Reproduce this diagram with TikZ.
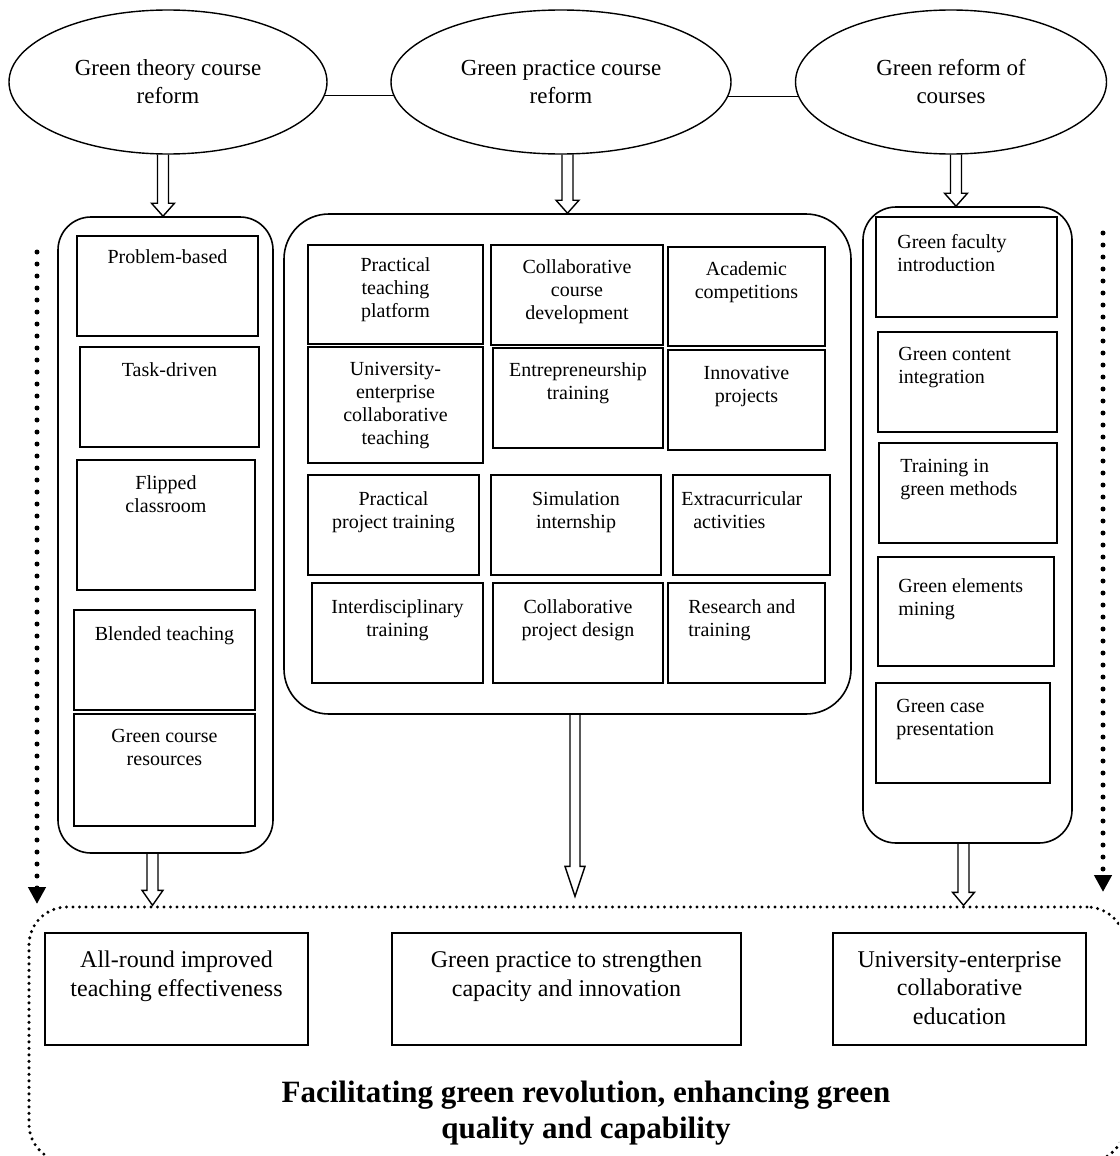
\documentclass[tikz,border=0pt]{standalone}
\usepackage{fontspec}
\setmainfont{Liberation Serif}
\usetikzlibrary{shapes.geometric,arrows.meta,calc,fit}
\newcommand\harrow[5]{%
  \draw[hollow] let \p1=(#1), \p2=(#2) in
    (\x1-#3pt,\y1) -- (\x1-#3pt,\y2+#5pt) -- (\x1-#4pt,\y2+#5pt) -- (\x1,\y2)
    -- (\x1+#4pt,\y2+#5pt) -- (\x1+#3pt,\y2+#5pt) -- (\x1+#3pt,\y1);}
\begin{document}
\begin{tikzpicture}[x=1pt,y=-1pt,
  ell/.style={ellipse, draw, line width=1.4pt, minimum height=144pt, minimum width=#1, inner sep=0pt, align=center, font=\fontsize{23}{28}\selectfont},
  rbx/.style={draw, line width=1.6pt, inner sep=0pt},
  ibx/.style={draw, line width=1.8pt, inner sep=0pt},
  txt/.style={inner sep=0pt, align=center, anchor=north, font=\fontsize{20}{23}\selectfont},
  ltxt/.style={txt, align=left, anchor=north west},
  btxt/.style={inner sep=0pt, align=center, anchor=north, font=\fontsize{24}{28.5}\selectfont},
  hollow/.style={line width=1.4pt, line join=miter},
  sidedot/.style={line width=5pt, dash pattern=on 0pt off 12pt, line cap=round, -{Triangle[length=17pt,width=17pt]}},
  boxdot/.style={draw, line width=3.4pt, dash pattern=on 0pt off 6.5pt, line cap=round, inner sep=0pt, rounded corners=38pt},
  ttl/.style={inner sep=0pt, align=center, font=\bfseries\fontsize{31}{36}\selectfont}
]
\useasboundingbox (0,0) rectangle (1119,1156);
\clip (0,0) rectangle (1119,1156);

% top ellipses
\node[ell=318pt] (e1) at (168,82) {Green theory course\\reform};
\node[ell=340pt] (e2) at (561,82) {Green practice course\\reform};
\node[ell=311pt] (e3) at (951,82) {Green reform of\\courses};
\coordinate (l1a) at (e1.-5.5);
\coordinate (l2a) at (e2.-5.15);
\draw[line width=1.4pt] (l1a) -- (l1a -| e2.185.15);
\draw[line width=1.4pt] (l2a) -- (l2a -| e3.185.6);

% rounded containers
\node[rbx, rounded corners=33pt, fit={(58,217)(273,853)}] (lbox) {};
\node[rbx, rounded corners=45pt, fit={(284,214)(851,714)}] (mbox) {};
\node[rbx, rounded corners=33pt, fit={(863,207)(1072,843)}] (rbox) {};

% left column
\node[ibx, fit={(77,236)(258,336)}] (lb1) {};
\node[txt] (lb1t) at ([yshift=-14pt]lb1.north) {Problem-based};
\node[ibx, fit={(80,347)(259,447)}] (lb2) {};
\node[txt] (lb2t) at ([yshift=-16pt]lb2.north) {Task-driven};
\node[ibx, fit={(77,460)(255,590)}] (lb3) {};
\node[txt] (lb3t) at ([yshift=-16pt]lb3.north) {Flipped\\classroom};
\node[ibx, fit={(74,610)(255,710)}] (lb4) {};
\node[txt] (lb4t) at ([yshift=-17pt]lb4.north) {Blended teaching};
\node[ibx, fit={(74,714)(255,826)}] (lb5) {};
\node[txt] (lb5t) at ([yshift=-16pt]lb5.north) {Green course\\resources};

% middle grid
\node[ibx, fit={(308,245)(483,344)}] (m11) {};
\node[txt] (m11t) at ([yshift=-13pt]m11.north) {Practical\\teaching\\platform};
\node[ibx, fit={(491,245)(663,345)}] (m12) {};
\node[txt] (m12t) at ([yshift=-15pt]m12.north) {Collaborative\\course\\development};
\node[ibx, fit={(668,247)(825,346)}] (m13) {};
\node[txt] (m13t) at ([yshift=-15pt]m13.north) {Academic\\competitions};
\node[ibx, fit={(308,347)(483,463)}] (m21) {};
\node[txt] (m21t) at ([yshift=-16pt]m21.north) {University-\\enterprise\\collaborative\\teaching};
\node[ibx, fit={(493,348)(663,448)}] (m22) {};
\node[txt] (m22t) at ([yshift=-15pt]m22.north) {Entrepreneurship\\training};
\node[ibx, fit={(668,350)(825,450)}] (m23) {};
\node[txt] (m23t) at ([yshift=-17pt]m23.north) {Innovative\\projects};
\node[ibx, fit={(308,475)(479,575)}] (m31) {};
\node[txt] (m31t) at ([yshift=-17pt]m31.north) {Practical\\project training};
\node[ibx, fit={(491,475)(661,575)}] (m32) {};
\node[txt] (m32t) at ([yshift=-17pt]m32.north) {Simulation\\internship};
\node[ibx, fit={(673,475)(830,575)}] (m33) {};
\node[ltxt] (m33t) at ([xshift=9pt,yshift=-17pt]m33.north west) {Extracurricular\\\hspace*{12pt}activities};
\node[ibx, fit={(312,583)(483,683)}] (m41) {};
\node[txt] (m41t) at ([yshift=-17pt]m41.north) {Interdisciplinary\\training};
\node[ibx, fit={(493,583)(663,683)}] (m42) {};
\node[txt] (m42t) at ([yshift=-17pt]m42.north) {Collaborative\\project design};
\node[ibx, fit={(668,583)(825,683)}] (m43) {};
\node[ltxt] (m43t) at ([xshift=21pt,yshift=-17pt]m43.north west) {Research and\\training};

% right column
\node[ibx, fit={(876,217)(1057,317)}] (r1) {};
\node[ltxt] (r1t) at ([xshift=22pt,yshift=-18pt]r1.north west) {Green faculty\\introduction};
\node[ibx, fit={(878,332)(1057,432)}] (r2) {};
\node[ltxt] (r2t) at ([xshift=21pt,yshift=-16pt]r2.north west) {Green content\\integration};
\node[ibx, fit={(879,443)(1057,543)}] (r3) {};
\node[ltxt] (r3t) at ([xshift=22pt,yshift=-17pt]r3.north west) {Training in\\green methods};
\node[ibx, fit={(878,557)(1054,666)}] (r4) {};
\node[ltxt] (r4t) at ([xshift=21pt,yshift=-22pt]r4.north west) {Green elements\\mining};
\node[ibx, fit={(876,683)(1050,783)}] (r5) {};
\node[ltxt] (r5t) at ([xshift=21pt,yshift=-17pt]r5.north west) {Green case\\presentation};

% bottom dotted region
\node[boxdot, fit={(29,907)(1125,1162)}] (dbox) {};
\node[ibx, fit={(45,933)(308,1045)}] (b1) {};
\node[btxt] (b1t) at ([yshift=-19pt]b1.north) {All-round improved\\teaching effectiveness};
\node[ibx, fit={(392,933)(741,1045)}] (b2) {};
\node[btxt] (b2t) at ([yshift=-19pt]b2.north) {Green practice to strengthen\\capacity and innovation};
\node[ibx, fit={(833,933)(1086,1045)}] (b3) {};
\node[btxt] (b3t) at ([yshift=-19pt]b3.north) {University-enterprise\\collaborative\\education};
\node[ttl] (title) at (586,1113) {Facilitating green revolution, enhancing green\\quality and capability};

% hollow arrows
\coordinate (a1s) at (e1.south -| lbox.north);
\coordinate (a2s) at (e2.south -| mbox.north);
\harrow{$(a1s)+(-2.5,0)$}{lbox.north}{5.5}{11.5}{13}
\harrow{a2s}{mbox.north}{5.5}{11.5}{13}
\harrow{$(e3.south)+(5,0)$}{rbox.north}{5.5}{11.5}{13}
\harrow{$(lbox.south)+(-13,0)$}{dbox.north}{5.5}{10.5}{15}
\harrow{$(mbox.south)+(7.5,0)$}{$(dbox.north)+(0,-9)$}{5}{10}{30}
\harrow{$(rbox.south)+(-4,0)$}{dbox.north}{5.5}{11}{13}

% dotted side arrows
\coordinate (dl1) at (37,252);
\coordinate (dl2) at (37,904);
\coordinate (dr1) at (1103,233);
\coordinate (dr2) at (1103,892);
\draw[sidedot] (dl1) -- (dl2);
\draw[sidedot] (dr1) -- (dr2);
\end{tikzpicture}
\end{document}
